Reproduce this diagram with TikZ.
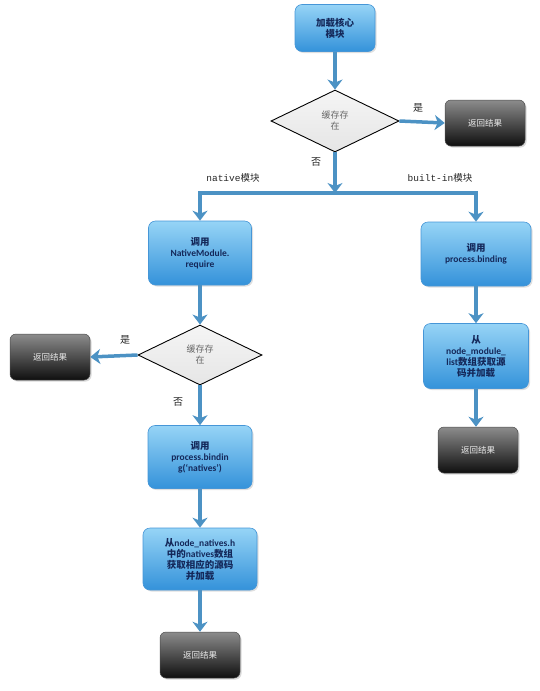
\documentclass[tikz,border=0pt]{standalone}
\usepackage{fontspec}
\setmainfont{Carlito}
\setmonofont{Liberation Mono}
\newfontfamily\cjk{Noto Sans CJK SC}
\newcommand{\zh}[1]{{\cjk #1}}
\usetikzlibrary{arrows.meta,shapes.geometric,shadows}
\definecolor{arr}{RGB}{76,146,196}
\definecolor{bluetop}{RGB}{150,212,246}
\definecolor{bluebot}{RGB}{52,146,218}
\definecolor{blueedge}{RGB}{70,150,215}
\definecolor{navy}{RGB}{20,40,90}
\definecolor{darktop}{RGB}{140,140,140}
\definecolor{darkbot}{RGB}{15,15,15}
\tikzset{
  bluebox/.style={rounded corners=7pt, top color=bluetop, bottom color=bluebot,
    draw=blueedge, line width=0.6pt, text=navy, align=center,
    font=\fontsize{9.5}{11}\selectfont\bfseries, inner sep=2pt,
    drop shadow={opacity=0.25, shadow xshift=1.5pt, shadow yshift=-1.5pt}},
  darkbox/.style={rounded corners=6pt, top color=darktop, bottom color=darkbot,
    draw=black!70, line width=0.5pt, text=white!85!gray, align=center,
    font=\fontsize{8.5}{10}\selectfont, minimum width=80pt, minimum height=46pt,
    drop shadow={opacity=0.3, shadow xshift=1.5pt, shadow yshift=-1.5pt}},
  decision/.style={shape=diamond, top color=white!92!gray, bottom color=white!80!gray,
    draw=black, line width=0.9pt, inner sep=0pt, text=black!60,
    align=center, font=\fontsize{9}{11}\selectfont},
  flow/.style={draw=arr, line width=3.5pt, -{Stealth[length=10pt,width=15pt,inset=3pt]}},
  lbl/.style={font=\fontsize{10}{12}\selectfont, text=black!85, inner sep=0pt},
  mlbl/.style={font=\fontsize{9.5}{12}\selectfont\ttfamily, text=black!85, inner sep=0pt}
}
\begin{document}
\begin{tikzpicture}[x=1pt,y=-1pt]
\path[use as bounding box] (0,0) rectangle (539,691);

% nodes
\node[bluebox, minimum width=80pt, minimum height=47pt] (top) at (335,28) {\zh{加载核心}\\\zh{模块}};
\node[decision, minimum width=128pt, minimum height=62pt] (d1) at (335,121) {\zh{缓存存}\\\zh{在}};
\node[darkbox] (r1) at (485,123) {\zh{返回结果}};
\coordinate (J) at (335,193);

\node[bluebox, minimum width=103pt, minimum height=64pt] (L1) at (200,253) {\zh{调用}\\NativeModule.\\require};
\node[bluebox, minimum width=110pt, minimum height=64pt] (R1) at (476,254) {\zh{调用}\\process.binding};

\node[decision, minimum width=124pt, minimum height=60pt] (d2) at (200,355) {\zh{缓存存}\\\zh{在}};
\node[darkbox] (r2) at (50,357) {\zh{返回结果}};

\node[bluebox, minimum width=104pt, minimum height=63pt] (L2) at (200,457) {\zh{调用}\\process.bindin\\g(‘natives’)};
\node[bluebox, minimum width=114pt, minimum height=62pt] (L3) at (200,559) {\zh{从}node\_natives.h\\\zh{中的}natives\zh{数组}\\\zh{获取相应的源码}\\\zh{并加载}};
\node[darkbox] (r3) at (200,655) {\zh{返回结果}};

\node[bluebox, minimum width=105pt, minimum height=65pt] (R2) at (476,356) {\zh{从}\\node\_module\_\\list\zh{数组获取源}\\\zh{码并加载}};
\node[darkbox] (r4) at (478,450) {\zh{返回结果}};

% labels
\node[lbl] (y1) at (418,108) {\zh{是}};
\node[lbl] (n1) at (316,162) {\zh{否}};
\node[mlbl] (nat) at (233,178) {native{\cjk 模块}};
\node[mlbl] (bin) at (440,178) {built-in{\cjk 模块}};
\node[lbl] (y2) at (125,340) {\zh{是}};
\node[lbl] (n2) at (178,402) {\zh{否}};

% connectors
\draw[flow] (top) -- (d1);
\draw[flow] (d1.east) -- (r1.west);
\draw[flow] (d1.south) -- (J);
\draw[flow] (J) -| (L1.north);
\draw[flow] (J) -| (R1.north);
\draw[flow] (L1) -- (d2);
\draw[flow] (d2.west) -- (r2.east);
\draw[flow] (d2.south) -- (L2.north);
\draw[flow] (L2) -- (L3);
\draw[flow] (L3) -- (r3);
\draw[flow] (R1) -- (R2);
\draw[flow] (R2.south) -- (R2.south |- r4.north);
\end{tikzpicture}
\end{document}
